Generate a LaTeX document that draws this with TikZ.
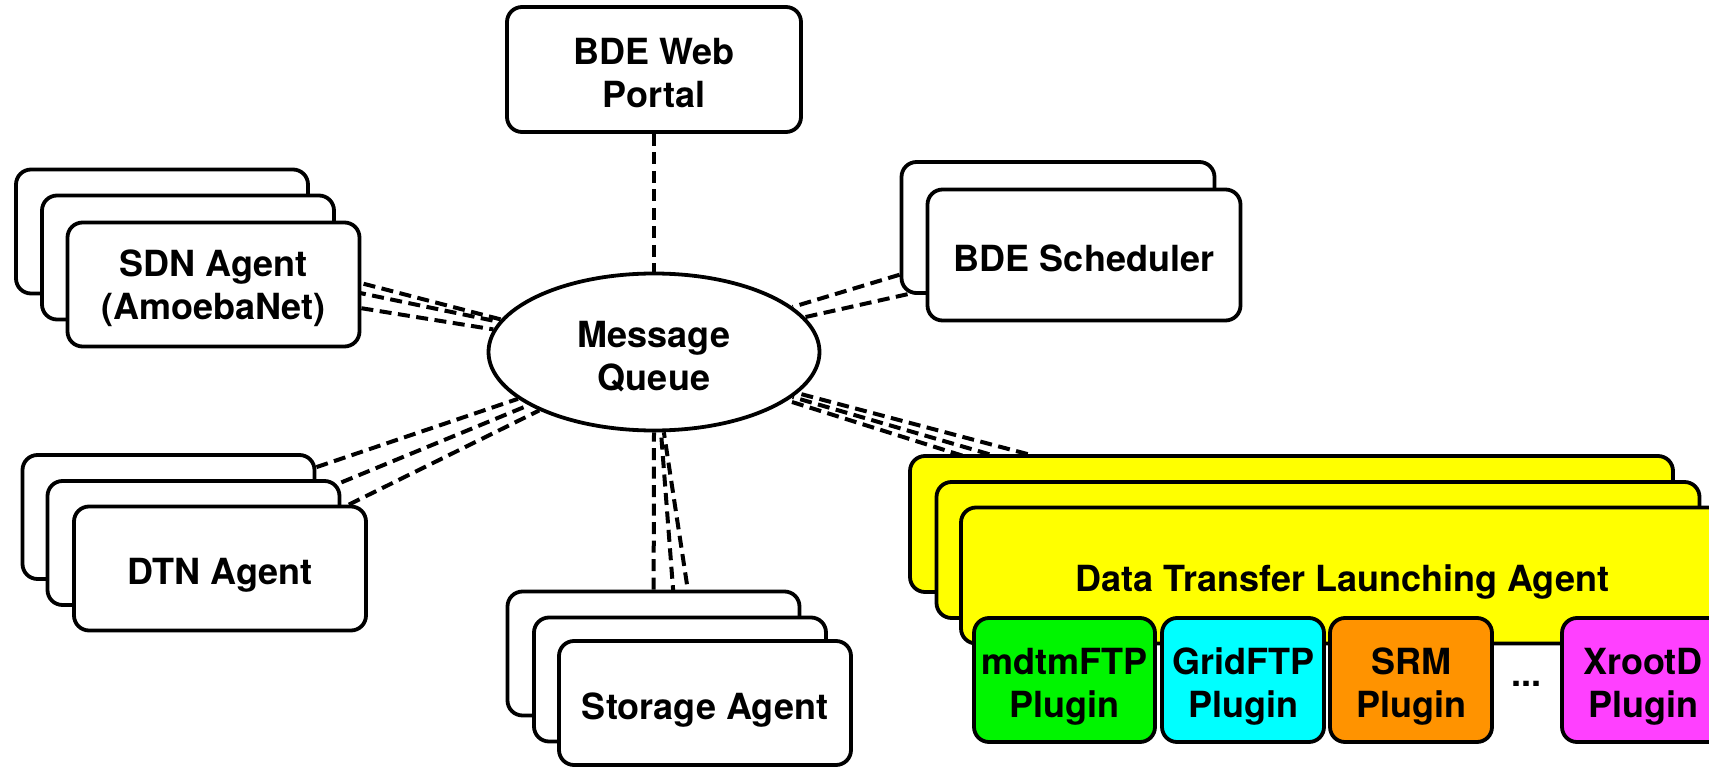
\documentclass[tikz,border=0pt]{standalone}
\usepackage{fontspec}
\setmainfont{TeX Gyre Heros}
\usetikzlibrary{shapes.geometric,backgrounds}

\definecolor{dtlayellow}{RGB}{255,255,0}
\definecolor{plgreen}{RGB}{0,245,0}
\definecolor{plcyan}{RGB}{0,255,255}
\definecolor{plorange}{RGB}{255,147,0}
\definecolor{plmagenta}{RGB}{255,64,255}

% struts that fix the vertical placement of the label lines
\newcommand{\lblstrut}{\rule[-6pt]{0pt}{46pt}}
\newcommand{\lbltopstrut}[1]{\rule{0pt}{#1}}
\newcommand{\lblbotstrut}{\rule[-6pt]{0pt}{6pt}}

\tikzset{
  labelfont/.style={font=\bfseries\fontsize{36}{43}\selectfont},
  box/.style={draw, line width=3.8pt, rounded corners=15pt, fill=white,
    align=center, inner sep=0pt, labelfont,
    execute at begin node=\lblstrut, execute at end node=\lblstrut},
  twoline/.style={execute at begin node={}, execute at end node={}},
  agentbox/.style={box, minimum width=292pt, minimum height=124pt},
  schedbox/.style={box, minimum width=313pt, minimum height=131pt},
  dtlabox/.style={box, fill=dtlayellow, minimum width=763pt, minimum height=136pt},
  plugbox/.style={box, twoline, minimum height=124pt, minimum width=162pt},
  queue/.style={ellipse, draw, line width=3.8pt, fill=white, inner sep=0pt,
    minimum width=331pt, minimum height=157pt, align=center, labelfont},
  link/.style={draw, line width=4pt, dash pattern=on 12pt off 6.5pt},
}

\begin{document}
\begin{tikzpicture}[x=1pt,y=-1pt]
\useasboundingbox (0,0) rectangle (1709,767);
\clip (0,0) rectangle (1709,767);

% central broker
\node[queue] (mq) at (654,352) {\lbltopstrut{40pt}Message\\Queue\lblbotstrut};

% web portal
\node[box, twoline, minimum width=294pt, minimum height=125pt] (portal) at (654,69.5)
  {\lbltopstrut{40pt}BDE Web\\Portal\lblbotstrut};

% SDN agents (stack of three)
\node[agentbox] (sdnA) at (162,231.5) {};
\node[agentbox] (sdnB) at (188,257.5) {};
\node[agentbox, twoline] (sdnC) at (213.5,284.5)
  {\lbltopstrut{34pt}SDN Agent\\(AmoebaNet)\lblbotstrut};

% scheduler (stack of two)
\node[schedbox] (schedA) at (1058,227.5) {};
\node[schedbox] (schedB) at (1084,255) {BDE Scheduler};

% DTN agents
\node[agentbox] (dtnA) at (168.5,517) {};
\node[agentbox] (dtnB) at (193.5,543) {};
\node[agentbox] (dtnC) at (220,568.5) {DTN Agent};

% storage agents
\node[agentbox] (storA) at (653.5,653.5) {};
\node[agentbox] (storB) at (680,679.5) {};
\node[agentbox] (storC) at (705,703) {Storage Agent};

% data transfer launching agents
\node[dtlabox] (dtlaA) at (1291.5,524) {};
\node[dtlabox] (dtlaB) at (1318,550) {};
\node[dtlabox] (dtlaC) at (1342.5,575.5) {Data Transfer Launching Agent};

% transfer plugins
\node[plugbox, fill=plgreen, minimum width=181pt] (pmdtm) at (1064.5,680)
  {\lbltopstrut{40pt}mdtmFTP\\Plugin\lblbotstrut};
\node[plugbox, fill=plcyan] (pgrid) at (1243,680)
  {\lbltopstrut{40pt}GridFTP\\Plugin\lblbotstrut};
\node[plugbox, fill=plorange] (psrm) at (1411,680)
  {\lbltopstrut{40pt}SRM\\Plugin\lblbotstrut};
\node[labelfont, anchor=base, inner sep=0pt] (pdots) at (1526,686) {...};
\node[plugbox, fill=plmagenta] (pxrd) at (1643,680)
  {\lbltopstrut{40pt}XrootD\\Plugin\lblbotstrut};

% message links, kept behind every box
\begin{scope}[on background layer]
  \draw[link] (portal) -- (mq.90);
  \draw[link] (sdnA) -- (mq.168);
  \draw[link] (sdnB) -- (mq.169);
  \draw[link] (sdnC) -- (mq.172);
  \draw[link] (schedA) -- (mq.18);
  \draw[link] (schedB) -- (mq.13);
  \draw[link] (dtnA) -- (mq.199);
  \draw[link] (dtnB) -- (mq.203);
  \draw[link] (dtnC) -- (mq.207);
  \draw[link] (storA) -- (mq.270);
  \draw[link] (storB) -- (mq.275);
  \draw[link] (storC) -- (mq.277);
  \draw[link] (dtlaA) -- (mq.344);
  \draw[link] (dtlaB) -- (mq.342);
  \draw[link] (dtlaC) -- (mq.340);
\end{scope}
\end{tikzpicture}
\end{document}
